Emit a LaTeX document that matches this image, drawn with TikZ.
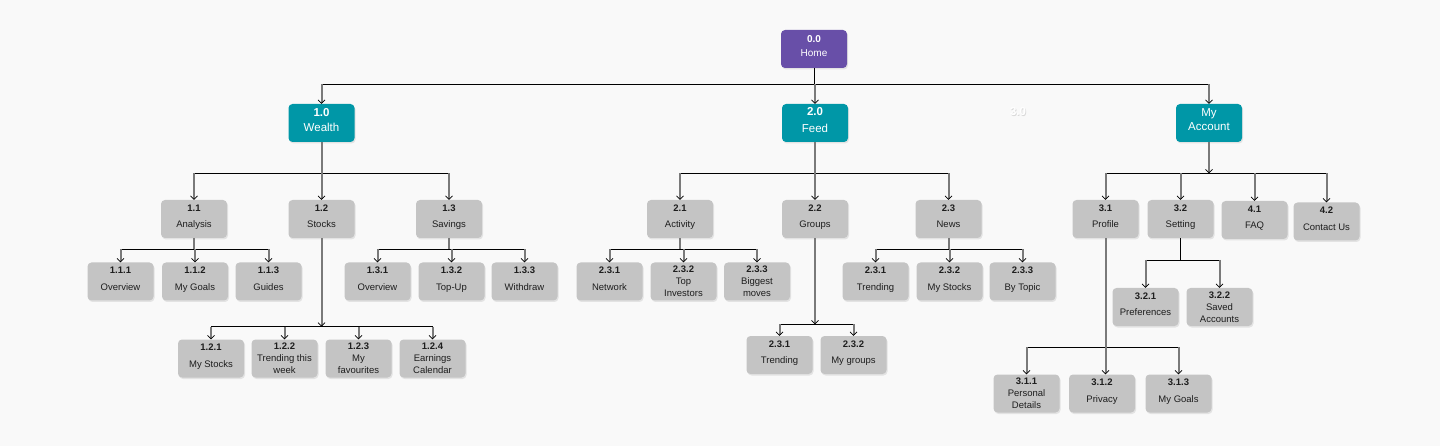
\documentclass[tikz,border=0pt]{standalone}
\usepackage{fontspec}
\setmainfont{Liberation Sans}
\usetikzlibrary{arrows.meta,shadows}
\definecolor{bgcol}{HTML}{F9F9F9}
\definecolor{homecol}{HTML}{684FA8}
\definecolor{tealcol}{HTML}{0097A7}
\definecolor{boxcol}{HTML}{C4C4C4}
\definecolor{stemcol}{HTML}{7A7A7A}
\definecolor{txtcol}{HTML}{1E1E1E}
\begin{document}
\begin{tikzpicture}[x=1pt,y=-1pt,
  >={Straight Barb[black,line width=0.7pt,length=3.5pt,width=7pt]},
  pagebox/.style={rounded corners=4pt,minimum width=66pt,minimum height=38pt,inner sep=0pt,align=center,
    drop shadow={shadow xshift=1pt,shadow yshift=-1.5pt,opacity=.18}},
  leafbox/.style={pagebox,fill=boxcol,text=txtcol,font=\fontsize{9.5}{12}\selectfont},
  mainbox/.style={pagebox,fill=tealcol,text=white,font=\fontsize{11.5}{14}\selectfont},
  homebox/.style={pagebox,fill=homecol,text=white,font=\fontsize{10}{12}\selectfont},
  barline/.style={black,line width=0.8pt},
  stemline/.style={stemcol,line width=2pt},
  dropline/.style={stemline,->}]
\def\sink{\rule[-6pt]{0pt}{0pt}}
\fill[bgcol] (0,0) rectangle (1440,446);
\useasboundingbox (0,0) rectangle (1440,446);
% top
\node[homebox] (n00) at (814,49) {\textbf{0.0}\\[2.4pt]Home\sink};
\node[mainbox] (n10) at (321.5,123) {\textbf{1.0}\\[0.5pt]Wealth\sink};
\node[mainbox] (n20) at (815,123) {\textbf{2.0}\\[2.5pt]Feed\sink};
\node[mainbox] (n30) at (1209,123) {My\\Account\sink};
\node[text=black!15,font=\fontsize{11.5}{14}\selectfont] at (1018.8,112.8) {\textbf{3.0}};
\node[text=white,font=\fontsize{11.5}{14}\selectfont] (n30num) at (1018,112) {\textbf{3.0}};
% second level
\node[leafbox] (n11) at (194,219) {\textbf{1.1}\\[4.5pt]Analysis\sink};
\node[leafbox] (n12) at (321.5,219) {\textbf{1.2}\\[4.5pt]Stocks\sink};
\node[leafbox] (n13) at (449,219) {\textbf{1.3}\\[4.5pt]Savings\sink};
\node[leafbox] (n21) at (680,219) {\textbf{2.1}\\[4.5pt]Activity\sink};
\node[leafbox] (n22) at (815,219) {\textbf{2.2}\\[4.5pt]Groups\sink};
\node[leafbox] (n23) at (948.5,219) {\textbf{2.3}\\[4.5pt]News\sink};
\node[leafbox] (n31) at (1105.5,219) {\textbf{3.1}\\[4.5pt]Profile\sink};
\node[leafbox] (n32) at (1180.5,219) {\textbf{3.2}\\[4.5pt]Setting\sink};
\node[leafbox] (n41) at (1254.5,220) {\textbf{4.1}\\[4.5pt]FAQ\sink};
\node[leafbox] (n42) at (1326.5,221.5) {\textbf{4.2}\\[4.5pt]Contact Us\sink};
% third level
\node[leafbox] (n111) at (120.5,281.5) {\textbf{1.1.1}\\[4.5pt]Overview\sink};
\node[leafbox] (n112) at (195,281.5) {\textbf{1.1.2}\\[4.5pt]My Goals\sink};
\node[leafbox] (n113) at (268.5,281.5) {\textbf{1.1.3}\\[4.5pt]Guides\sink};
\node[leafbox] (n131) at (377.5,281.5) {\textbf{1.3.1}\\[4.5pt]Overview\sink};
\node[leafbox] (n132) at (451.5,281.5) {\textbf{1.3.2}\\[4.5pt]Top-Up\sink};
\node[leafbox] (n133) at (524.5,281.5) {\textbf{1.3.3}\\[4.5pt]Withdraw\sink};
\node[leafbox] (n121) at (211,358.5) {\textbf{1.2.1}\\[4.5pt]My Stocks\sink};
\node[leafbox] (n122) at (284.5,358.5) {\textbf{1.2.2}\\Trending this\\week};
\node[leafbox] (n123) at (358.5,358.5) {\textbf{1.2.3}\\My\\favourites};
\node[leafbox] (n124) at (432.5,358.5) {\textbf{1.2.4}\\Earnings\\Calendar};
\node[leafbox] (n211) at (609.5,281.5) {\textbf{2.3.1}\\[4.5pt]Network\sink};
\node[leafbox] (n212) at (683.5,281.5) {\textbf{2.3.2}\\Top\\Investors};
\node[leafbox] (n213) at (757,281.5) {\textbf{2.3.3}\\Biggest\\moves};
\node[leafbox] (n231) at (875.5,281.5) {\textbf{2.3.1}\\[4.5pt]Trending\sink};
\node[leafbox] (n232) at (949.5,281.5) {\textbf{2.3.2}\\[4.5pt]My Stocks\sink};
\node[leafbox] (n233) at (1022.5,281.5) {\textbf{2.3.3}\\[4.5pt]By Topic\sink};
\node[leafbox] (n221) at (779.5,355) {\textbf{2.3.1}\\[4.5pt]Trending\sink};
\node[leafbox] (n222) at (853.5,355) {\textbf{2.3.2}\\[4.5pt]My groups\sink};
\node[leafbox] (n321) at (1145.5,307) {\textbf{3.2.1}\\[4.5pt]Preferences\sink};
\node[leafbox] (n322) at (1219.5,307) {\textbf{3.2.2}\\Saved\\Accounts};
\node[leafbox] (n311) at (1026.5,393.5) {\textbf{3.1.1}\\Personal\\Details};
\node[leafbox] (n312) at (1102,393.5) {\textbf{3.1.2}\\[4.5pt]Privacy\sink};
\node[leafbox] (n313) at (1178.5,393.5) {\textbf{3.1.3}\\[4.5pt]My Goals\sink};
% bar heights
\coordinate (b0) at (0,84.3);
\coordinate (b1) at (0,173.3);
\coordinate (b2) at (0,249.3);
\coordinate (b12) at (0,326.7);
\coordinate (b22) at (0,324.3);
\coordinate (b32) at (0,260);
\coordinate (b31) at (0,347.3);
% home
\draw[barline] (n00.south) -- (n00 |- b0);
\draw[barline] (n10 |- b0) -- (n30 |- b0);
\draw[dropline] (n10 |- b0) -- (n10.north);
\draw[dropline] (n20 |- b0) -- (n20.north);
\draw[dropline] (n30 |- b0) -- (n30.north);
% wealth
\draw[stemline] (n10.south) -- (n10 |- b1);
\draw[barline] (n11 |- b1) -- (n13 |- b1);
\draw[dropline] (n11 |- b1) -- (n11.north);
\draw[dropline] (n12 |- b1) -- (n12.north);
\draw[dropline] (n13 |- b1) -- (n13.north);
\draw[stemline] (n11.south) -- (n11 |- b2);
\draw[barline] (n111 |- b2) -- (n113 |- b2);
\draw[dropline] (n111 |- b2) -- (n111.north);
\draw[dropline] (n112 |- b2) -- (n112.north);
\draw[dropline] (n113 |- b2) -- (n113.north);
\draw[dropline] (n12.south) -- (n12 |- b12);
\draw[barline] (n121 |- b12) -- (n124 |- b12);
\draw[dropline] (n121 |- b12) -- (n121.north);
\draw[dropline] (n122 |- b12) -- (n122.north);
\draw[dropline] (n123 |- b12) -- (n123.north);
\draw[dropline] (n124 |- b12) -- (n124.north);
\draw[stemline] (n13.south) -- (n13 |- b2);
\draw[barline] (n131 |- b2) -- (n133 |- b2);
\draw[dropline] (n131 |- b2) -- (n131.north);
\draw[dropline] (n132 |- b2) -- (n132.north);
\draw[dropline] (n133 |- b2) -- (n133.north);
% feed
\draw[stemline] (n20.south) -- (n20 |- b1);
\draw[barline] (n21 |- b1) -- (n23 |- b1);
\draw[dropline] (n21 |- b1) -- (n21.north);
\draw[dropline] (n22 |- b1) -- (n22.north);
\draw[dropline] (n23 |- b1) -- (n23.north);
\draw[stemline] (n21.south) -- (n21 |- b2);
\draw[barline] (n211 |- b2) -- (n213 |- b2);
\draw[dropline] (n211 |- b2) -- (n211.north);
\draw[dropline] (n212 |- b2) -- (n212.north);
\draw[dropline] (n213 |- b2) -- (n213.north);
\draw[dropline] (n22.south) -- (n22 |- b22);
\draw[barline] (n221 |- b22) -- (n222 |- b22);
\draw[dropline] (n221 |- b22) -- (n221.north);
\draw[dropline] (n222 |- b22) -- (n222.north);
\draw[stemline] (n23.south) -- (n23 |- b2);
\draw[barline] (n231 |- b2) -- (n233 |- b2);
\draw[dropline] (n231 |- b2) -- (n231.north);
\draw[dropline] (n232 |- b2) -- (n232.north);
\draw[dropline] (n233 |- b2) -- (n233.north);
% my account
\draw[dropline] (n30.south) -- (n30 |- b1);
\draw[barline] (n31 |- b1) -- (n42 |- b1);
\draw[dropline] (n31 |- b1) -- (n31.north);
\draw[dropline] (n32 |- b1) -- (n32.north);
\draw[dropline] (n41 |- b1) -- (n41.north);
\draw[dropline] (n42 |- b1) -- (n42.north);
\draw[barline] (n32.south) -- (n32 |- b32);
\draw[barline] (n321 |- b32) -- (n322 |- b32);
\draw[dropline] (n321 |- b32) -- (n321.north);
\draw[dropline] (n322 |- b32) -- (n322.north);
\draw[barline] (n311 |- b31) -- (n313 |- b31);
\draw[dropline] (n311 |- b31) -- (n311.north);
\draw[dropline] (n313 |- b31) -- (n313.north);
\draw[dropline] (n31.south) -- (n31 |- n312.north);
\end{tikzpicture}
\end{document}
